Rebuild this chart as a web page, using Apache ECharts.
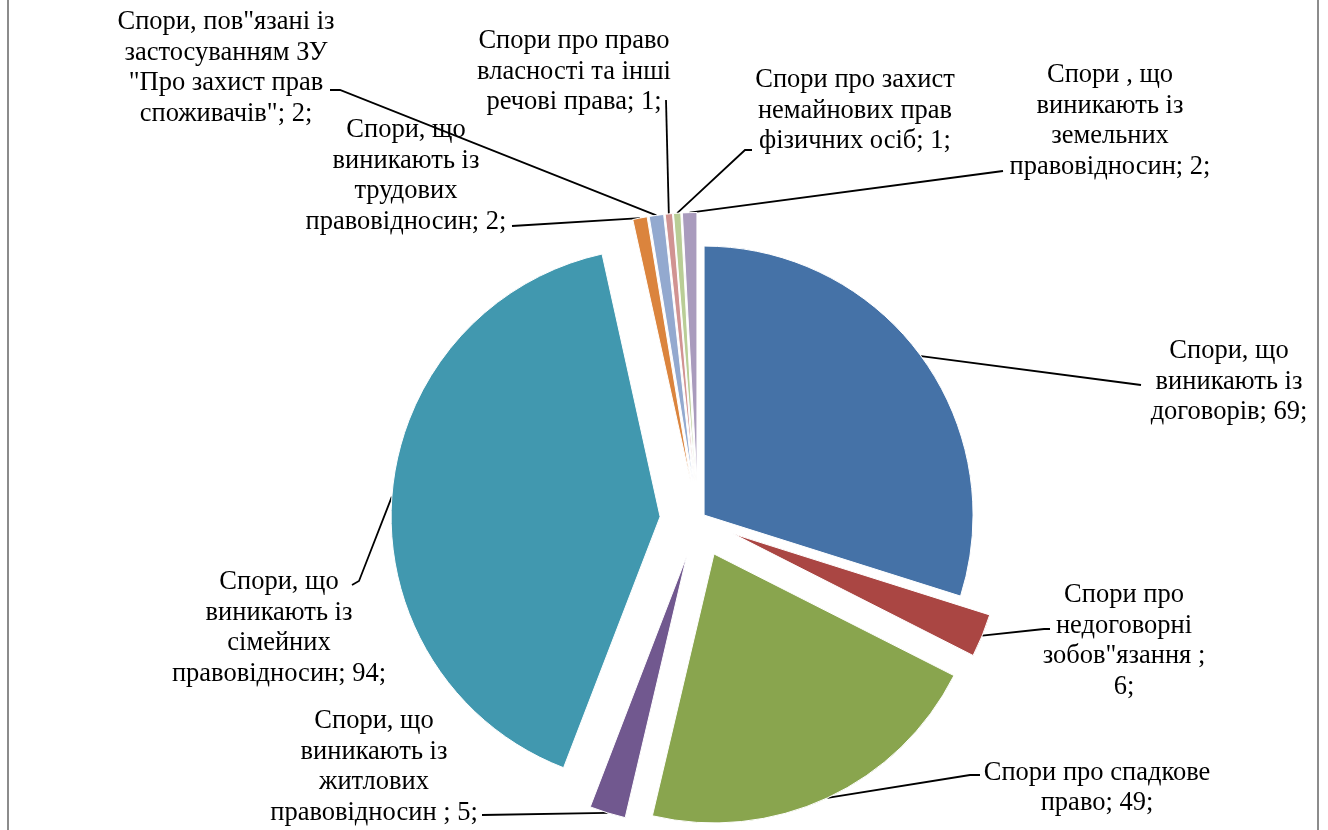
<!DOCTYPE html>
<html>
<head>
<meta charset="utf-8">
<title>Категорії спорів</title>
<script src="https://cdn.jsdelivr.net/npm/echarts@6/dist/echarts.min.js"></script>
<style>
  html, body { margin: 0; padding: 0; background: #fff; }
  #wrap { position: relative; width: 1328px; height: 830px; overflow: hidden; }
  #chart { width: 1328px; height: 830px; }
  #frame {
    position: absolute; left: 7px; top: -10px; width: 1312px; height: 850px;
    border: 2px solid #8c8c8c; box-sizing: border-box; pointer-events: none;
  }
</style>
</head>
<body>
<div id="wrap">
  <div id="chart"></div>
  <div id="frame"></div>
</div>
<script>
// категорії (переноси рядків як у підписах оригіналу)
const categories = [
  'Спори, що\nвиникають із\nдоговорів',
  'Спори про\nнедоговорні\nзобов"язання ',
  'Спори про спадкове\nправо',
  'Спори, що\nвиникають із\nжитлових\nправовідносин ',
  'Спори, що\nвиникають із\nсімейних\nправовідносин',
  'Спори, що\nвиникають із\nтрудових\nправовідносин',
  'Спори, пов"язані із\nзастосуванням ЗУ\n"Про захист прав\nспоживачів"',
  'Спори про право\nвласності та інші\nречові права',
  'Спори про захист\nнемайнових прав\nфізичних осіб',
  'Спори , що\nвиникають із\nземельних\nправовідносин'
];
const values = [69, 6, 49, 5, 94, 2, 2, 1, 1, 2];
const colors = ['#4572A7', '#AA4643', '#89A54E', '#71588F', '#4198AF',
                '#DB843D', '#93A9CF', '#D19392', '#B9CD96', '#A99BBD'];
const labelFormats = ['{b}; {c};', '{b};\n{c};', '{b}; {c};', '{b}; {c};', '{b}; {c};',
                      '{b}; {c};', '{b}; {c};', '{b}; {c};', '{b}; {c};', '{b}; {c};'];

// розташування: винос секторів, центри підписів, кінці виносок
const pieCenter = [698, 519.5];
const pieRadius = 269;
const explode = [7.5, 38, 38, 38, 38, 38, 38, 38, 38, 38];
const labelPos = [
  [1229, 382], [1124, 641], [1097, 788], [374, 767], [279, 628],
  [406, 176], [226, 68], [574, 72], [855, 111], [1110, 121]
];
const leaderEnds = [
  [[1141, 385]],
  [[1044, 629], [1050, 629]],
  [[970, 775], [980, 775]],
  [[482, 815]],
  [[359, 581], [352, 585]],
  [[512, 226]],
  [[340, 90], [330, 90]],
  [[666, 100]],
  [[745, 150], [752, 150]],
  [[1003, 171]]
];

const chart = echarts.init(document.getElementById('chart'));
const total = values.reduce((a, b) => a + b, 0);

function layoutLabel(k) {
  return function (params) {
    if (params.dataIndex !== k) return {};
    const pts = params.labelLinePoints;
    const out = {
      x: labelPos[k][0],
      y: labelPos[k][1],
      align: 'center',
      verticalAlign: 'middle'
    };
    if (pts && pts.length) out.labelLinePoints = [pts[0]].concat(leaderEnds[k]);
    return out;
  };
}

let acc = 0;
const series = values.map((v, k) => {
  const mid = (acc + v / 2) / total * 2 * Math.PI;
  acc += v;
  const c = [pieCenter[0] + explode[k] * Math.sin(mid), pieCenter[1] - explode[k] * Math.cos(mid)];
  return {
    type: 'pie',
    center: c,
    radius: pieRadius,
    startAngle: 90,
    clockwise: true,
    avoidLabelOverlap: false,
    minShowLabelAngle: 0,
    silent: true,
    animation: false,
    label: {
      show: true,
      position: 'outside',
      formatter: labelFormats[k],
      fontFamily: '"Liberation Serif", "DejaVu Serif", serif',
      fontSize: 26.5,
      lineHeight: 30.5,
      color: '#000',
      overflow: 'none'
    },
    labelLine: { show: true, length: 10, length2: 10, lineStyle: { color: '#000', width: 1.8 } },
    labelLayout: layoutLabel(k),
    data: values.map((val, i) => ({
      name: categories[i],
      value: val,
      itemStyle: i === k
        ? { color: colors[i], borderColor: '#fff', borderWidth: 1 }
        : { color: 'transparent', borderWidth: 0 },
      label: { show: i === k },
      labelLine: { show: i === k }
    }))
  };
});

chart.setOption({
  backgroundColor: '#fff',
  animation: false,
  series: series
});
</script>
</body>
</html>
